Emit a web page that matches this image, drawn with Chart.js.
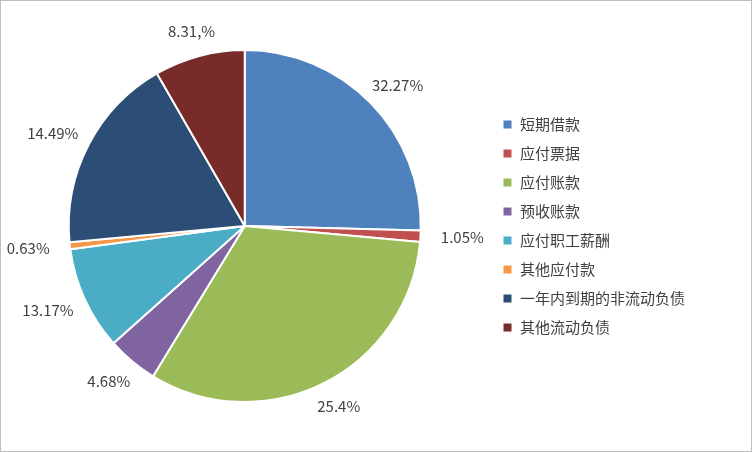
<!DOCTYPE html>
<html>
<head>
<meta charset="utf-8">
<script src="https://cdn.jsdelivr.net/npm/chart.js@4"></script>
<style>
  body { margin: 0; background: #fff; }
  #wrap { width: 750px; height: 450px; border: 1px solid #bfbfbf; }
</style>
</head>
<body>
<div id="wrap"><canvas id="pie" width="750" height="450"></canvas></div>
<script>
const categories = ["短期借款", "应付票据", "应付账款", "预收账款", "应付职工薪酬", "其他应付款", "一年内到期的非流动负债", "其他流动负债"];
// slice sizes as drawn in the picture
const values = [25.4, 1.05, 32.27, 4.68, 9.5, 0.63, 18.16, 8.31];
// percentage texts as printed next to each slice
const pctLabels = ["32.27%", "1.05%", "25.4%", "4.68%", "13.17%", "0.63%", "14.49%", "8.31,%"];
const colors = ["#4f81bd", "#c0504d", "#9bbb59", "#8064a2", "#4bacc6", "#f79646", "#2c4d75", "#772c2a"];

const FONT = "'Noto Sans CJK SC', 'Noto Sans', sans-serif";

const outsideLabels = {
  id: "outsideLabels",
  afterDatasetsDraw(chart) {
    const ctx = chart.ctx;
    const arcs = chart.getDatasetMeta(0).data;
    ctx.save();
    ctx.font = "15px " + FONT;
    ctx.fillStyle = "#404040";
    ctx.textAlign = "center";
    ctx.textBaseline = "middle";
    arcs.forEach((arc, i) => {
      const mid = (arc.startAngle + arc.endAngle) / 2;
      const r = arc.outerRadius + 26;
      const x = arc.x + Math.cos(mid) * (r + 16 * Math.abs(Math.cos(mid)));
      const y = arc.y + Math.sin(mid) * r;
      ctx.fillText(pctLabels[i], x, y);
    });
    ctx.restore();
  }
};

new Chart(document.getElementById("pie"), {
  type: "pie",
  data: {
    labels: categories,
    datasets: [{
      data: values,
      backgroundColor: colors,
      borderColor: "#ffffff",
      borderWidth: 2
    }]
  },
  options: {
    responsive: false,
    animation: false,
    layout: { padding: { top: 48, bottom: 48, left: 0, right: 56 } },
    plugins: {
      tooltip: { enabled: false },
      legend: {
        position: "right",
        align: "center",
        labels: {
          boxWidth: 10,
          boxHeight: 10,
          padding: 14,
          color: "#404040",
          font: { family: FONT, size: 15 }
        }
      }
    }
  },
  plugins: [outsideLabels]
});
</script>
</body>
</html>
